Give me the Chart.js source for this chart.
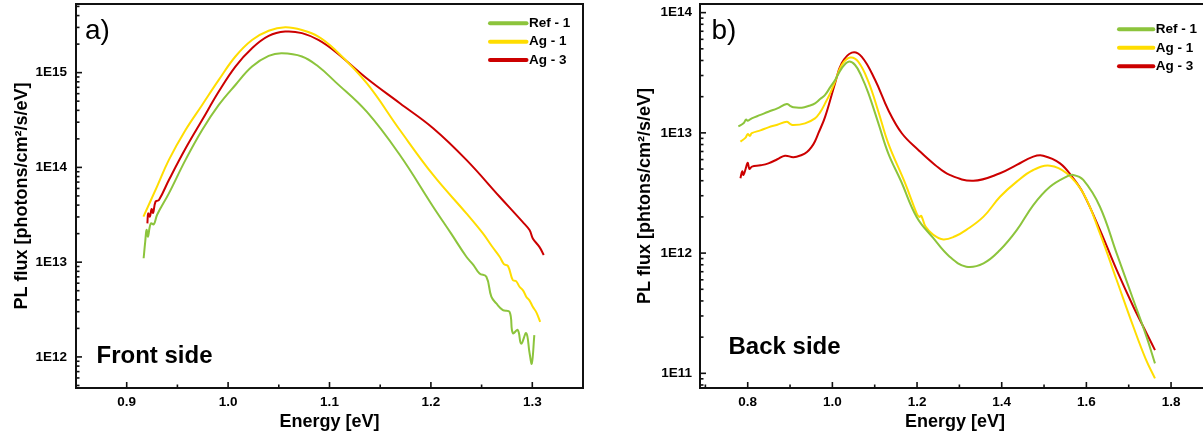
<!DOCTYPE html>
<html><head><meta charset="utf-8">
<script src="https://cdn.jsdelivr.net/npm/chart.js@4.4.1/dist/chart.umd.min.js"></script>
<style>
html,body{margin:0;padding:0;background:#fff;overflow:hidden;width:1203px;height:444px;position:relative}
#ca{position:absolute;left:0;top:0}
#cb{position:absolute;left:600px;top:0}
</style></head><body>
<canvas id="ca" width="600" height="444"></canvas>
<canvas id="cb" width="610" height="444"></canvas>
<script>
// ---------- DATA: panel a) Front side ----------
const frontEnergyRef1 = [0.9167,0.9183,0.9196,0.9210,0.9225,0.9240,0.9268,0.9300,0.9416,0.9580,0.9744,0.9908,1.0072,1.0236,1.0400,1.0530,1.0728,1.0890,1.1055,1.1367,1.1694,1.2022,1.2200,1.2350,1.2420,1.2480,1.2547,1.2596,1.2645,1.2710,1.2776,1.2808,1.2857,1.2890,1.2940,1.2973,1.2995,1.3020];
const frontFluxRef1   = [1.10e13,1.66e13,2.19e13,1.86e13,2.29e13,2.57e13,2.51e13,3.16e13,5.32e13,1.20e14,2.48e14,4.56e14,7.41e14,1.16e15,1.50e15,1.60e15,1.48e15,1.16e15,8.04e14,3.87e14,1.35e14,3.85e13,2.00e13,1.14e13,9.33e12,7.59e12,7.02e12,4.32e12,3.67e12,3.12e12,2.99e12,1.78e12,1.92e12,1.38e12,1.78e12,1.10e12,8.51e11,1.70e12];

const frontEnergyAg1 = [0.9165,0.9300,0.9416,0.9580,0.9744,0.9908,1.0072,1.0236,1.0400,1.0563,1.0728,1.0890,1.1055,1.1367,1.1694,1.2022,1.2350,1.2513,1.2600,1.2678,1.2720,1.2760,1.2808,1.2840,1.2874,1.2910,1.2940,1.2970,1.3005,1.3040,1.3078];
const frontFluxAg1   = [3.02e13,6.31e13,1.20e14,2.48e14,4.56e14,8.38e14,1.48e15,2.21e15,2.77e15,3.01e15,2.82e15,2.40e15,1.74e15,7.73e14,2.48e14,8.32e13,3.27e13,2.01e13,1.48e13,1.14e13,9.55e12,9.12e12,6.46e12,6.31e12,5.50e12,5.01e12,4.32e12,3.98e12,3.38e12,2.95e12,2.34e12];

const frontEnergyAg3 = [0.9204,0.9212,0.9228,0.9245,0.9260,0.9285,0.9318,0.9416,0.9580,0.9744,0.9908,1.0072,1.0236,1.0400,1.0563,1.0728,1.0890,1.1055,1.1366,1.1694,1.2022,1.2350,1.2678,1.2900,1.2973,1.3005,1.3070,1.3113];
const frontFluxAg3   = [2.57e13,3.27e13,3.02e13,3.63e13,3.31e13,4.37e13,4.53e13,7.36e13,1.58e14,3.16e14,6.31e14,1.16e15,1.81e15,2.44e15,2.71e15,2.61e15,2.21e15,1.67e15,8.71e14,4.75e14,2.59e14,1.20e14,4.90e13,2.69e13,2.18e13,1.78e13,1.45e13,1.19e13];

// ---------- DATA: panel b) Back side ----------
const backEnergyRef1 = [0.7780,0.7900,0.7960,0.8000,0.8096,0.8300,0.8488,0.8700,0.8923,0.9000,0.9080,0.9277,0.9450,0.9590,0.9710,0.9828,0.9950,1.0064,1.0220,1.0380,1.0536,1.0690,1.0850,1.1087,1.1320,1.1620,1.1990,1.2385,1.2770,1.3164,1.3570,1.3960,1.4355,1.4746,1.5140,1.5535,1.5690,1.5927,1.6320,1.6715,1.7110,1.7424,1.7620];
const backFluxRef1   = [1.13e13,1.20e13,1.29e13,1.26e13,1.32e13,1.41e13,1.50e13,1.60e13,1.74e13,1.68e13,1.63e13,1.62e13,1.68e13,1.76e13,1.91e13,2.07e13,2.40e13,2.75e13,3.44e13,3.91e13,3.67e13,2.94e13,2.14e13,1.20e13,6.76e12,3.98e12,2.00e12,1.33e12,9.33e11,7.71e11,8.22e11,1.06e12,1.55e12,2.51e12,3.56e12,4.33e12,4.47e12,4.06e12,2.43e12,9.95e11,4.07e11,2.00e11,1.21e11];

const backEnergyAg1 = [0.7828,0.7950,0.8000,0.8050,0.8096,0.8300,0.8488,0.8700,0.8923,0.9000,0.9080,0.9355,0.9590,0.9710,0.9828,0.9950,1.0064,1.0220,1.0418,1.0610,1.0850,1.1087,1.1320,1.1720,1.1990,1.2050,1.2100,1.2200,1.2385,1.2620,1.2900,1.3164,1.3570,1.3960,1.4355,1.4746,1.5140,1.5535,1.5927,1.6320,1.6715,1.7110,1.7400,1.7620];
const backFluxAg1   = [8.45e12,9.12e12,9.77e12,9.44e12,9.93e12,1.05e13,1.11e13,1.17e13,1.24e13,1.19e13,1.16e13,1.20e13,1.32e13,1.48e13,1.76e13,2.14e13,2.67e13,3.67e13,4.23e13,3.91e13,2.67e13,1.50e13,8.18e12,3.80e12,2.14e12,2.00e12,2.04e12,1.66e12,1.42e12,1.30e12,1.38e12,1.56e12,2.01e12,2.94e12,3.93e12,4.91e12,5.33e12,4.61e12,3.14e12,1.46e12,5.97e11,2.44e11,1.32e11,9.08e10];

const backEnergyAg3 = [0.7828,0.7870,0.7900,0.7950,0.8000,0.8040,0.8100,0.8300,0.8488,0.8700,0.8880,0.9080,0.9277,0.9400,0.9513,0.9590,0.9670,0.9828,1.0064,1.0220,1.0458,1.0690,1.1010,1.1320,1.1640,1.2030,1.2426,1.2770,1.3330,1.3960,1.4355,1.4746,1.4980,1.5377,1.5690,1.5927,1.6320,1.6715,1.7110,1.7424,1.7620];
const backFluxAg3   = [4.19e12,4.79e12,4.47e12,5.01e12,5.65e12,5.01e12,5.24e12,5.37e12,5.58e12,6.03e12,6.46e12,6.27e12,6.55e12,6.92e12,7.67e12,8.51e12,9.93e12,1.36e13,2.59e13,3.79e13,4.65e13,4.31e13,2.75e13,1.55e13,9.93e12,7.21e12,5.41e12,4.47e12,4.00e12,4.61e12,5.41e12,6.34e12,6.46e12,5.58e12,4.19e12,3.14e12,1.56e12,7.24e11,3.58e11,2.15e11,1.56e11];

// ---------- labels / ticks ----------
const seriesNames = ['Ref - 1','Ag - 1','Ag - 3'];
const seriesColors = ['#8cc43c','#ffdd00','#cc0000'];
const frontXTicks = [0.9,1.0,1.1,1.2,1.3];
const frontXMinor = [0.95,1.05,1.15,1.25,1.35];
const frontYTicks = [1e12,1e13,1e14,1e15];
const backXTicks = [0.8,1.0,1.2,1.4,1.6,1.8];
const backXMinor = [0.7,0.9,1.1,1.3,1.5,1.7];
const backYTicks = [1e11,1e12,1e13,1e14];
const xTitle = 'Energy [eV]';
const frontYTitle = 'PL flux [photons/cm²/s/eV]';
const backYTitle = 'PL flux [phtons/cm²/s/eV]';

const FAM = '"Liberation Sans", Arial, Helvetica, sans-serif';

const decor = {
  id: 'decor',
  afterDatasetsDraw(chart, args, o) {
    const {ctx, chartArea: a, scales: {x, y}} = chart;
    ctx.save();
    ctx.strokeStyle = '#111';
    ctx.lineWidth = 1.6;
    const seg = (x1, y1, x2, y2) => { ctx.beginPath(); ctx.moveTo(x1, y1); ctx.lineTo(x2, y2); ctx.stroke(); };
    o.xMajor.forEach(v => { const p = x.getPixelForValue(v); seg(p, a.bottom, p, a.bottom - 6); });
    o.xMinor.forEach(v => { if (v > x.min && v < x.max) { const p = x.getPixelForValue(v); seg(p, a.bottom, p, a.bottom - 3.5); } });
    const lo = Math.floor(Math.log10(y.min)), hi = Math.ceil(Math.log10(y.max));
    for (let n = lo; n <= hi; n++) {
      for (let m = 1; m <= 9; m++) {
        const v = m * Math.pow(10, n);
        if (v <= y.min || v >= y.max) continue;
        const p = y.getPixelForValue(v);
        seg(a.left, p, a.left + (m === 1 ? 6 : 3.5), p);
      }
    }
    ctx.lineWidth = 2;
    ctx.strokeStyle = '#111';
    ctx.strokeRect(a.left, a.top, a.right - a.left, a.bottom - a.top);
    // legend
    ctx.font = 'bold 13.5px ' + FAM;
    ctx.textBaseline = 'middle';
    ctx.textAlign = 'left';
    chart.data.datasets.forEach((d, i) => {
      const yy = o.legend.y + i * o.legend.dy;
      ctx.strokeStyle = d.borderColor;
      ctx.lineWidth = 4;
      ctx.lineCap = 'round';
      seg(o.legend.x0, yy, o.legend.x1, yy);
      ctx.fillStyle = '#000';
      ctx.fillText(d.label, o.legend.x1 + 2.5, yy);
    });
    // panel letter and side label
    ctx.textBaseline = 'alphabetic';
    ctx.fillStyle = '#000';
    ctx.font = '28px ' + FAM;
    ctx.fillText(o.letter.text, o.letter.x, o.letter.y);
    ctx.font = 'bold 24px ' + FAM;
    ctx.fillText(o.side.text, o.side.x, o.side.y);
    ctx.restore();
  }
};

function makeChart(id, sets, cfg) {
  const datasets = sets.map((s, i) => ({
    label: seriesNames[i],
    data: s[0].map((e, k) => ({x: e, y: s[1][k]})),
    borderColor: seriesColors[i],
    backgroundColor: seriesColors[i],
    borderWidth: 2,
    pointRadius: 0,
    tension: 0.4,
    fill: false
  }));
  const tickFont = {family: FAM, size: 13.5, weight: 'bold'};
  const titleFont = {family: FAM, size: 18, weight: 'bold'};
  const noPad = s => { s.paddingTop = 0; s.paddingBottom = 0; s.paddingLeft = 0; s.paddingRight = 0; };
  return new Chart(document.getElementById(id), {
    type: 'line',
    data: {datasets},
    plugins: [decor],
    options: {
      responsive: false,
      animation: false,
      layout: {padding: cfg.pad},
      plugins: {
        legend: {display: false},
        tooltip: {enabled: false},
        decor: cfg.decor
      },
      scales: {
        x: {
          type: 'linear', position: 'bottom',
          min: cfg.xMin, max: cfg.xMax,
          afterBuildTicks: s => { s.ticks = cfg.xTicks.map(v => ({value: v})); },
          afterFit: s => { s.height = 56; noPad(s); },
          grid: {display: false, drawTicks: false},
          border: {display: false},
          ticks: {color: '#000', font: tickFont, padding: 6, maxRotation: 0, autoSkip: false,
                  callback: v => Number(v).toFixed(1)},
          title: {display: true, text: xTitle, color: '#000', font: titleFont, padding: {top: 0, bottom: 11.5}}
        },
        y: {
          type: 'logarithmic', position: 'left',
          min: cfg.yMin, max: cfg.yMax,
          afterBuildTicks: s => { s.ticks = cfg.yTicks.map(v => ({value: v, major: true})); },
          afterFit: s => { s.width = cfg.yW; noPad(s); },
          grid: {display: false, drawTicks: false},
          border: {display: false},
          ticks: {color: '#000', font: tickFont, padding: cfg.yPad, autoSkip: false,
                  callback: v => '1E' + Math.round(Math.log10(v))},
          title: {display: true, text: cfg.yTitle, color: '#000', font: titleFont, padding: {top: cfg.yTitlePad, bottom: 0}}
        }
      }
    }
  });
}

makeChart('ca', [[frontEnergyRef1, frontFluxRef1], [frontEnergyAg1, frontFluxAg1], [frontEnergyAg3, frontFluxAg3]], {
  pad: {left: 0, right: 17, top: 4, bottom: 0},
  xMin: 0.85, xMax: 1.35, xTicks: frontXTicks,
  yMin: 4.7e11, yMax: 5.3e15, yTicks: frontYTicks,
  yW: 76, yPad: 9, yTitle: frontYTitle, yTitlePad: 11,
  decor: {
    xMajor: frontXTicks, xMinor: frontXMinor,
    legend: {x0: 490, x1: 526.5, y: 23.3, dy: 18.4},
    letter: {text: 'a)', x: 85, y: 39},
    side: {text: 'Front side', x: 96.5, y: 363}
  }
});

makeChart('cb', [[backEnergyRef1, backFluxRef1], [backEnergyAg1, backFluxAg1], [backEnergyAg3, backFluxAg3]], {
  pad: {left: 0, right: 0, top: 4, bottom: 0},
  xMin: 0.6873, xMax: 1.892, xTicks: backXTicks,
  yMin: 7.55e10, yMax: 1.18e14, yTicks: backYTicks,
  yW: 100, yPad: 8, yTitle: backYTitle, yTitlePad: 34,
  decor: {
    xMajor: backXTicks, xMinor: backXMinor,
    legend: {x0: 519, x1: 553.3, y: 29.3, dy: 18.5},
    letter: {text: 'b)', x: 111.5, y: 39},
    side: {text: 'Back side', x: 128.5, y: 354}
  }
});
</script>
</body></html>
